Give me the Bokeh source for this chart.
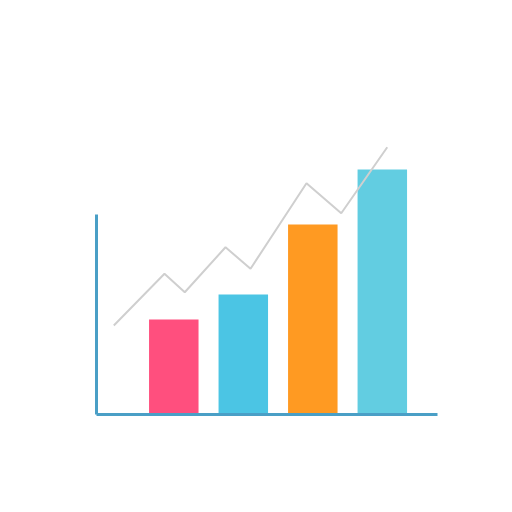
from bokeh.plotting import figure
from bokeh.models import LinearAxis, Range1d, ColumnDataSource
from bokeh.embed import file_html
from bokeh.resources import INLINE

# ---- data ----
bar_x = [1, 2, 3, 4]
bar_values = [38, 48, 76, 98]
bar_colors = ["#ff4f7e", "#4bc5e4", "#ff9a22", "#62cde1"]

trend_x = [0.137, 0.866, 1.158, 1.744, 2.104, 2.909, 3.409, 4.071]
trend_y = [35.6, 56.3, 48.9, 66.9, 58.3, 92.5, 80.5, 106.9]

x_start, x_end = -0.112, 4.981
y_start, y_end = 0, 124

p = figure(width=496, height=496, output_backend="svg", toolbar_location=None,
           x_range=Range1d(x_start, x_end), y_range=Range1d(y_start, y_end),
           x_axis_location=None, y_axis_location=None,
           min_border_left=96, min_border_right=46, min_border_top=104, min_border_bottom=82)
p.outline_line_color = None
p.xgrid.visible = False
p.ygrid.visible = False
p.background_fill_color = "#ffffff"
p.border_fill_color = "#ffffff"

src = ColumnDataSource(dict(x=bar_x, top=bar_values, color=bar_colors))
p.vbar(x="x", top="top", bottom=0, width=0.712, fill_color="color", line_color=None, source=src)

p.line(trend_x, trend_y, line_color="#cfcfcf", line_width=2)

axis_color = "#4a9fc6"
for ax, side, bounds in [(LinearAxis(), "left", (0, 80)), (LinearAxis(), "below", (x_start, 4.794))]:
    ax.bounds = bounds
    ax.ticker = []
    ax.axis_line_color = axis_color
    ax.axis_line_width = 3
    ax.major_tick_line_color = None
    ax.minor_tick_line_color = None
    ax.major_label_text_font_size = "0pt"
    p.add_layout(ax, side)

open("out.html", "w").write(file_html(p, INLINE))
